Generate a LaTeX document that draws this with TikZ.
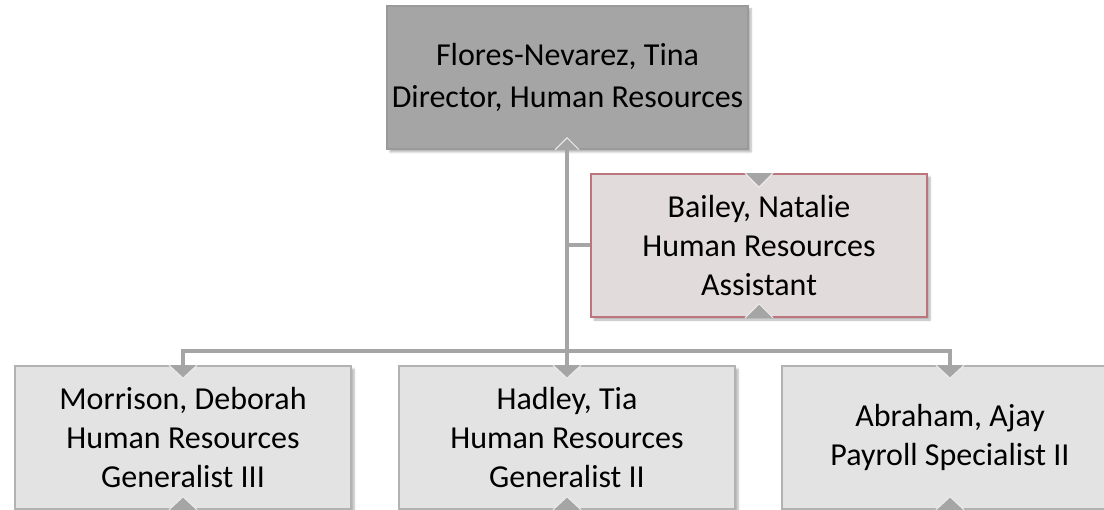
\documentclass[tikz,border=0pt]{standalone}
\usepackage{fontspec}
\setmainfont{Carlito}
\usetikzlibrary{shadows.blur}
\definecolor{topfill}{HTML}{A5A5A5}
\definecolor{topdraw}{HTML}{9A9A9A}
\definecolor{asfill}{HTML}{E2DBDB}
\definecolor{asdraw}{HTML}{BC757C}
\definecolor{botfill}{HTML}{E3E3E3}
\definecolor{botdraw}{HTML}{B2B2B2}
\definecolor{linegray}{HTML}{A5A5A5}
\tikzset{
  orgbox/.style={rectangle, align=center, inner sep=0pt, line width=1.6pt,
    font=\fontsize{32}{39}\selectfont,
    blur shadow={shadow xshift=3pt, shadow yshift=-3pt, shadow blur steps=6, shadow opacity=30}},
  topbox/.style={orgbox, fill=topfill, draw=topdraw, minimum width=361pt, minimum height=143pt,
    font=\fontsize{32}{42}\selectfont},
  asbox/.style={orgbox, fill=asfill, draw=asdraw, minimum width=336pt, minimum height=143pt},
  botbox/.style={orgbox, fill=botfill, draw=botdraw, minimum width=336pt, minimum height=143pt},
  conn/.style={draw=linegray, line width=4pt},
  tri/.style={fill=linegray, draw=white!85!gray, line width=1pt, line join=miter}
}
\begin{document}
\begin{tikzpicture}[x=1pt,y=-1pt]
\useasboundingbox (0,0) rectangle (1104,510);
\clip (0,0) rectangle (1104,510);
\coordinate (bus) at (567,351);
\node[topbox] (top) at (567.5,77.5) {Flores-Nevarez, Tina\\Director, Human Resources};
\node[asbox] (bailey) at (759,245.5) {Bailey, Natalie\\Human Resources\\Assistant};
\node[botbox] (morrison) at (183,437.5) {Morrison, Deborah\\Human Resources\\Generalist III};
\node[botbox] (hadley) at (567,437.5) {Hadley, Tia\\Human Resources\\Generalist II};
\node[botbox] (abraham) at (950,437.5) {Abraham, Ajay\\Payroll Specialist II};
% connectors
\draw[conn] (top.south -| bus) -- (bus);
\draw[conn] (bus |- bailey.west) -- (bailey.west);
\draw[conn] (morrison.north) -- (morrison.north |- bus) -- (abraham.north |- bus) -- (abraham.north);
\draw[conn] (bus) -- (hadley.north);
% triangles
\filldraw[tri] ([xshift=-12pt]top.south -| bus) -- ([yshift=12pt]top.south -| bus) -- ([xshift=12pt]top.south -| bus);
\filldraw[tri] ([xshift=-14pt]bailey.north) -- ([yshift=-14pt]bailey.north) -- ([xshift=14pt]bailey.north);
\filldraw[tri] ([xshift=-14pt]bailey.south) -- ([yshift=14pt]bailey.south) -- ([xshift=14pt]bailey.south);
\foreach \n in {morrison,hadley,abraham}{
  \filldraw[tri] ([xshift=-14pt]\n.north) -- ([yshift=-13pt]\n.north) -- ([xshift=14pt]\n.north);
  \filldraw[tri] ([xshift=-14pt]\n.south) -- ([yshift=13pt]\n.south) -- ([xshift=14pt]\n.south);
}
\end{tikzpicture}
\end{document}
